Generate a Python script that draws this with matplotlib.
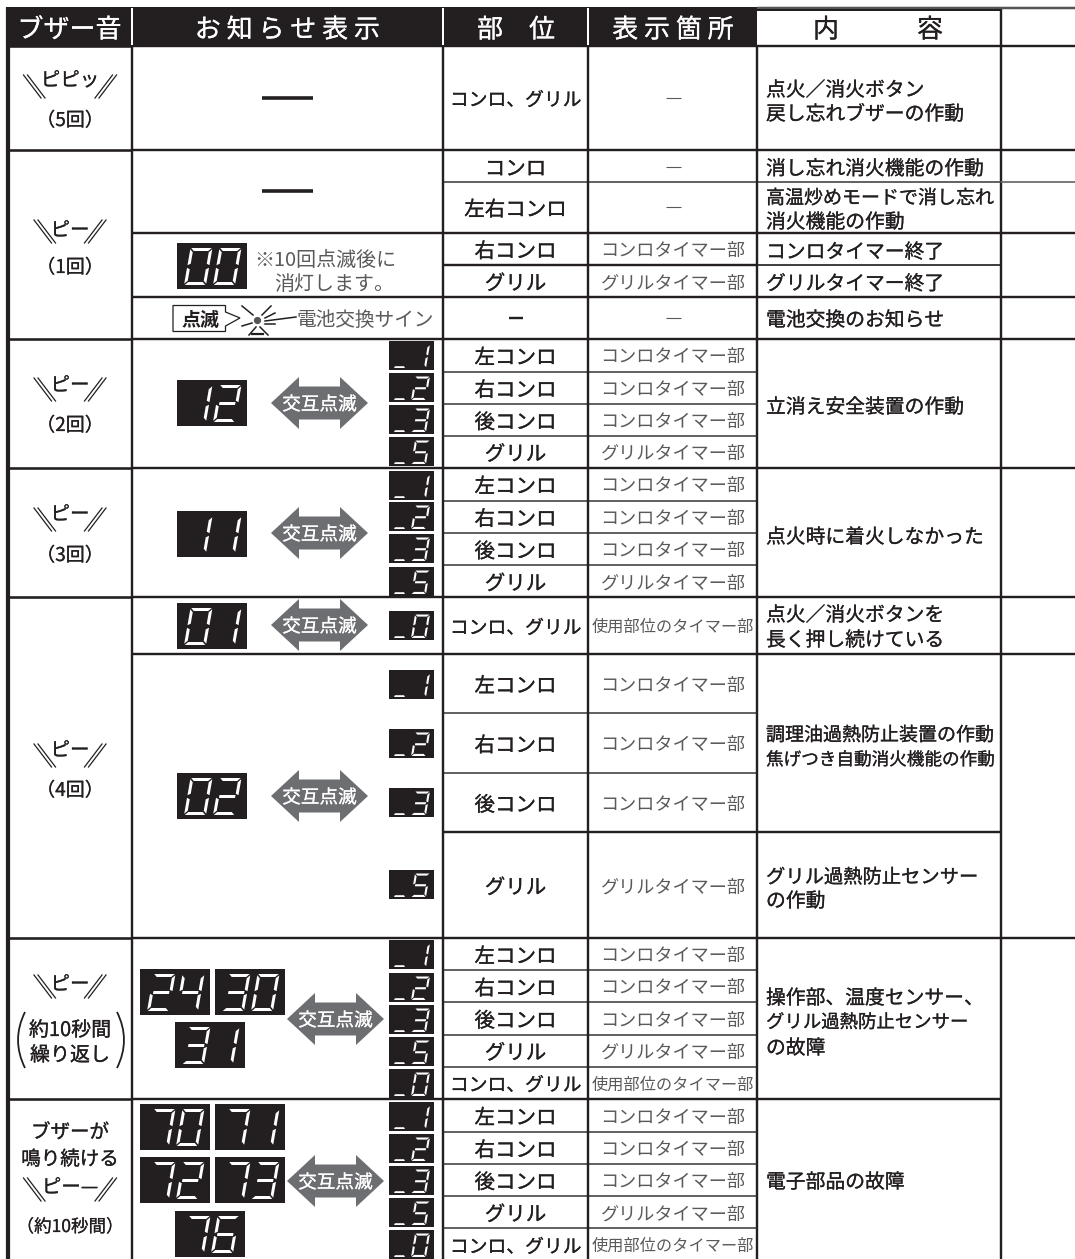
import matplotlib
matplotlib.use("Agg")
import matplotlib.pyplot as plt
import matplotlib.patheffects as pe
from matplotlib.patches import Rectangle, Polygon, Circle
from matplotlib.path import Path
from matplotlib.patches import PathPatch

plt.rcParams['font.family'] = ['Noto Sans CJK JP', 'DejaVu Sans']

# ---------- content ----------
header_labels = ["ブザー音", "お 知 ら せ 表 示", "部　位", "表 示 箇 所"]
header_content = "内　　　容"

part_labels = ["コンロ、グリル", "コンロ", "左右コンロ", "右コンロ", "グリル", "—",
               "左コンロ", "右コンロ", "後コンロ", "グリル",
               "左コンロ", "右コンロ", "後コンロ", "グリル",
               "コンロ、グリル",
               "左コンロ", "右コンロ", "後コンロ", "グリル",
               "左コンロ", "右コンロ", "後コンロ", "グリル", "コンロ、グリル",
               "左コンロ", "右コンロ", "後コンロ", "グリル", "コンロ、グリル"]
place_labels = ["—", "—", "—", "コンロタイマー部", "グリルタイマー部", "—",
                "コンロタイマー部", "コンロタイマー部", "コンロタイマー部", "グリルタイマー部",
                "コンロタイマー部", "コンロタイマー部", "コンロタイマー部", "グリルタイマー部",
                "使用部位のタイマー部",
                "コンロタイマー部", "コンロタイマー部", "コンロタイマー部", "グリルタイマー部",
                "コンロタイマー部", "コンロタイマー部", "コンロタイマー部", "グリルタイマー部", "使用部位のタイマー部",
                "コンロタイマー部", "コンロタイマー部", "コンロタイマー部", "グリルタイマー部", "使用部位のタイマー部"]
content_labels = ["点火／消火ボタン", "戻し忘れブザーの作動", "消し忘れ消火機能の作動",
                  "高温炒めモードで消し忘れ", "消火機能の作動", "コンロタイマー終了", "グリルタイマー終了",
                  "電池交換のお知らせ", "立消え安全装置の作動", "点火時に着火しなかった",
                  "点火／消火ボタンを", "長く押し続けている", "調理油過熱防止装置の作動",
                  "焦げつき自動消火機能の作動", "グリル過熱防止センサー", "の作動",
                  "操作部、温度センサー、", "グリル過熱防止センサー", "の故障", "電子部品の故障"]
sound_labels = ["ピピッ", "ピー", "ピー", "ピー", "ピー", "ピー", "ピー—"]
count_labels = ["（5回）", "（1回）", "（2回）", "（3回）", "（4回）", "（約10秒間）"]
big_codes = ["00", "12", "11", "01", "02", "24", "30", "31", "70", "71", "72", "73", "76"]
small_codes = ["1", "2", "3", "5", "1", "2", "3", "5", "0", "1", "2", "3", "5",
               "1", "2", "3", "5", "0", "1", "2", "3", "5", "0"]

# ---------- layout (pixels) ----------
V = [131.5, 442.8, 588.3, 757.0, 1001.0]
row_edges = [46, 149.5, 182, 232.7, 265.3, 297, 339, 371.7, 404, 436, 467.7, 500.7, 533, 565.3, 597.3,
             654, 713.3, 773, 832.3, 938, 970.3, 1002.3, 1034.7, 1066.7, 1099,
             1132, 1164, 1196, 1228.3, 1261]
display_edges = [46, 149.5, 232.7, 297, 339, 467.7, 597.3, 654, 938, 1099]
buzzer_edges = [46, 149.5, 339, 467.7, 597.3, 938, 1099]
content_edges = [46, 149.5, 182, 232.7, 265.3, 297, 339, 467.7, 597.3, 654, 832.3, 938, 1099]
right_edges = [46, 149.5, 182, 232.7, 297, 339, 467.7, 597.3, 654, 938]
content_y = [88, 112, 166.7, 195.7, 220, 250, 281.7, 318, 405, 535, 613, 638, 732.7, 758, 875, 899, 996, 1020.7, 1046, 1180]
content_sz = {3: 19.0, 12: 19.0, 13: 17.6, 14: 19.3, 17: 18.4}
big_xy = [(177, 243), (177, 380), (177, 511), (177, 603), (177, 773),
          (140, 969), (215, 969), (175, 1022), (140, 1104), (215, 1104), (140, 1157), (215, 1157), (175, 1211)]
small_y = [341, 373, 405, 437, 471, 502, 534, 567, 611, 670, 729, 788, 870,
           940, 973, 1005, 1037, 1069, 1102, 1134, 1166, 1198, 1230]
arrow_xy = [(319.5, 403), (319.5, 533), (319.5, 625), (319.5, 796), (335.5, 1019), (335.5, 1181)]
sound_y = [78, 228, 383, 512, 748, 982, 1185]
slash_y = [75, 220, 378, 508, 744, 975, 1178]
slash_half = [42.5, 32, 32, 32, 32, 32, 42.5]
count_y = [118, 265, 423, 553, 788, 1225]

DARK = "#231f20"
GREY = "#5a5a5a"
px = 72 / 100  # pixel -> point at dpi 100

fig = plt.figure(figsize=(10.75, 12.59), dpi=100, facecolor="white")
ax = fig.add_axes([0, 0, 1, 1])
ax.set_xlim(0, 1075)
ax.set_ylim(1259, 0)
ax.axis("off")


def T(x, y, s, size, color=DARK, ha="center", weight="normal", z=6, stroke=0.0):
    t = ax.text(x, y, s, fontsize=size * px, color=color, ha=ha, va="center_baseline",
                fontweight=weight, zorder=z)
    if stroke:
        t.set_path_effects([pe.withStroke(linewidth=stroke, foreground=color)])
    return t


def hl(y, x0, x1, lw=2.2, color=DARK, z=3):
    ax.plot([x0, x1], [y, y], color=color, lw=lw * px, solid_capstyle="butt", zorder=z)


def vl(x, y0, y1, lw=2.2, color=DARK, z=3):
    ax.plot([x, x], [y0, y1], color=color, lw=lw * px, solid_capstyle="butt", zorder=z)


# header
ax.add_patch(Rectangle((6, 7), 751, 40, fc=DARK, ec="none", zorder=1))
hl(8, 757, 1075, 2.5, "#555555")
hl(10, 757, 1001, 2.0)
for x in V[:3]:
    vl(x, 8, 45, 2.0, "white", z=4)
for x, s in zip([69.5, 287.5, 516, 673], header_labels):
    T(x, 27, s, 26, "white", stroke=0.15)
T(878, 27, header_content, 26, stroke=0.15)
vl(V[4], 9, 1259, 2.4)

# grid
for y in buzzer_edges:
    hl(y, 6, V[0], 2.6)
for y in display_edges:
    hl(y, V[0], V[1], 2.4)
for y in row_edges[:-1]:
    thin = y in (371.7, 404, 436, 500.7, 533, 565.3, 713.3, 773, 970.3, 1002.3, 1034.7, 1066.7, 1132, 1164, 1196, 1228.3, 182)
    hl(y, V[1], V[3], 1.7 if thin else 2.4, "#4a4a4a" if thin else DARK)
for y in content_edges:
    hl(y, V[3], V[4], 1.7 if y in (182, 265.3) else 2.4, "#4a4a4a" if y == 182 else DARK)
for y in right_edges:
    hl(y, V[4], 1075, 1.7 if y == 182 else 2.4, "#666666" if y == 182 else DARK)
vl(8, 7, 1259, 4.2)
for x in V[:4]:
    vl(x, 46, 1259, 2.4)

# table text
for i, (a, b) in enumerate(zip(part_labels, place_labels)):
    yc = (row_edges[i] + row_edges[i + 1]) / 2
    if i == 1:
        yc = 166.5
    if a == "—":
        hl(yc, 508.5, 523, 2.4, z=6)
    else:
        T(515.5, yc, a, 18.8 if "、" in a else 20.5, stroke=0.2)
    if b == "—":
        hl(yc, 665.5, 680.5, 1.1, GREY, z=6)
    else:
        T(673, yc, b, 16.2 if "使用" in b else 18.1, GREY)
for i, (s, y) in enumerate(zip(content_labels, content_y)):
    T(766, y, s, content_sz.get(i, 19.8), ha="left", stroke=0.18)

# big dashes
hl(98, 262, 313, 3.6)
hl(191, 262, 313, 3.6)

# sound marks
for s, y, sy, h in zip(sound_labels, sound_y, slash_y, slash_half):
    T(70, y, s, 19.5, stroke=0.15)
    for off in (0, 4):
        for sgn in (-1, 1):
            xa = 70 + sgn * (h - off + 4)
            xb = xa - sgn * 17.5
            ax.plot([xa, xb], [sy, sy + 23], color=DARK, lw=0.9, zorder=6)
for s, y in zip(count_labels, count_y):
    T(70, y, s, 17.5 if "約" in s else 19, stroke=0.15)
T(70, 1028, "約10秒間", 20, stroke=0.2)
T(70, 1053, "繰り返し", 20, stroke=0.2)
T(70, 1130, "ブザーが", 19.5, stroke=0.2)
T(70, 1157, "鳴り続ける", 19.5, stroke=0.2)
for x0, x1 in ((25, 15), (117, 127)):
    pth = Path([(x0, 1012), (x1 - (x0 - x1) * 0.4, 1040), (x0, 1068)], [Path.MOVETO, Path.CURVE3, Path.CURVE3])
    ax.add_patch(PathPatch(pth, fc="none", ec=DARK, lw=1.3, zorder=6))

# seven-segment displays
SEG = {"0": "abcdef", "1": "bc", "2": "abdeg", "3": "abcdg", "4": "bcfg", "5": "acdfg", "6": "acdefg", "7": "abc"}


def digit(x, y, w, h, s, ch, t):
    """x,y: lower-left of the upright cell; s: slant; t: stroke in px."""
    tu, tv = t / w, t / h
    g = 0.035
    shapes = {
        "a": [(g, 1), (1 - g, 1), (1 - tu - g, 1 - tv), (tu + g, 1 - tv)],
        "d": [(tu + g, tv), (1 - tu - g, tv), (1 - g, 0), (g, 0)],
        "g": [(tu, .5 + tv / 2), (1 - tu, .5 + tv / 2), (1 - tu, .5 - tv / 2), (tu, .5 - tv / 2)],
        "f": [(0, 1 - g), (tu, 1 - tv - g), (tu, .5 + tv / 2 + g), (0, .5 + g)],
        "e": [(0, .5 - g), (tu, .5 - tv / 2 - g), (tu, tv + g), (0, g)],
        "b": [(1, 1 - g), (1 - tu, 1 - tv - g), (1 - tu, .5 + tv / 2 + g), (1, .5 + g)],
        "c": [(1, .5 - g), (1 - tu, .5 - tv / 2 - g), (1 - tu, tv + g), (1, g)],
    }
    for c in SEG[ch]:
        pts = [(x + u * w + v * s, y - v * h) for u, v in shapes[c]]
        ax.add_patch(Polygon(pts, closed=True, fc="white", ec="none", zorder=7))


for code, (x, y) in zip(big_codes, big_xy):
    ax.add_patch(Rectangle((x, y), 70, 46, fc=DARK, ec="none", zorder=5))
    for k, ch in enumerate(code):
        digit(x + 7 + k * 29, y + 42, 22, 37, 6.5, ch, 3.0)

for code, y in zip(small_codes, small_y):
    ax.add_patch(Rectangle((389, y), 45, 29, fc=DARK, ec="none", zorder=5))
    ax.add_patch(Polygon([(394, y + 27), (405, y + 27), (404, y + 25.2), (395, y + 25.2)], closed=True,
                         fc="white", ec="none", zorder=7))
    digit(411, y + 27, 15, 23.5, 4, code, 2.1)

# arrows
for cx, cy in arrow_xy:
    W, H, sh, hw = 48.5, 26, 16.5, 28
    pts = [(cx - W, cy), (cx - W + hw, cy - H), (cx - W + hw, cy - sh), (cx + W - hw, cy - sh), (cx + W - hw, cy - H),
           (cx + W, cy), (cx + W - hw, cy + H), (cx + W - hw, cy + sh), (cx - W + hw, cy + sh), (cx - W + hw, cy + H)]
    ax.add_patch(Polygon(pts, closed=True, fc="#6d6e71", ec="none", zorder=5))
    T(cx, cy, "交互点滅", 18.6, "white", z=7, stroke=0.15)

# battery sign
pts = [(173, 305.5), (225.5, 305.5), (225.5, 312), (240, 318), (225.5, 326), (225.5, 331.5), (173, 331.5)]
ax.add_patch(Polygon(pts, closed=True, fc="white", ec=DARK, lw=0.9, zorder=5))
T(200, 318, "点滅", 19, weight="bold")
ax.add_patch(Circle((257.5, 320.5), 3.6, fc="#555555", ec="none", zorder=6))
rays = [((265, 321), (296, 317)), ((265, 318), (275, 313)), ((265, 324), (275, 324)),
        ((262, 315), (271, 306)), ((253, 315), (242, 306)), ((252, 323), (242, 326))]
for p, q in rays:
    ax.plot([p[0], q[0]], [p[1], q[1]], color=DARK, lw=1.1, zorder=6)
for p, q in [((256, 327), (249, 335)), ((260, 327), (268, 335))]:
    ax.plot([p[0], q[0]], [p[1], q[1]], color=DARK, lw=1.1, zorder=6)
ax.plot([252, 263], [333.5, 333.5], color=DARK, lw=1.6, zorder=6)
T(297, 318, "電池交換サイン", 19.7, GREY, ha="left")

# note
T(254, 258, "※10回点滅後に", 20, GREY, ha="left")
T(274, 282, "消灯します。", 20, GREY, ha="left")

fig.savefig("out.png", dpi=100, facecolor="white")
